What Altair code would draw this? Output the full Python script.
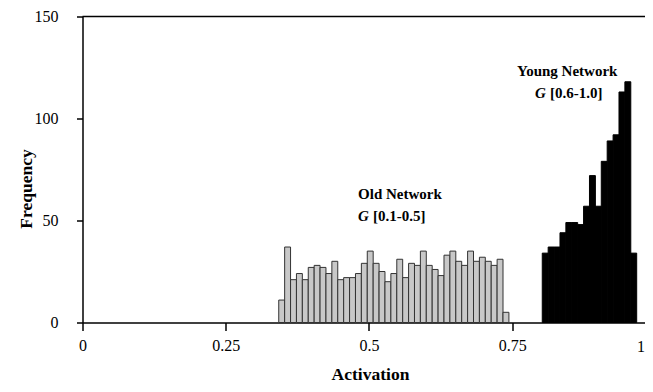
import altair as alt
import pandas as pd

FONT = "Liberation Serif"

# Histogram counts
old_counts = [11, 37, 21, 24, 21, 27, 28, 27, 24, 30, 21, 22, 22,
              24, 29, 35, 29, 25, 20, 24, 31, 22, 29, 28, 35, 28,
              26, 23, 33, 35, 30, 28, 35, 30, 32, 30, 28, 31, 5]
young_counts = [34, 37, 37, 44, 49, 49, 48, 57, 72, 57, 79, 89, 92, 113, 118, 34]

BIN_W = 0.0103
OLD_START = 0.3425
YOUNG_START = 0.8024

x_ticks = [0, 0.25, 0.5, 0.75]
y_ticks = [0, 50, 100, 150]
X_MAX = 0.9817
Y_MAX = 150

ann_titles = ["Old Network", "Young Network"]
ann_title_x = [0.481, 0.7583]
ann_title_y = [63, 123.3]
ann_ranges = ["[0.1-0.5]", "[0.6-1.0]"]
ann_g_x = [0.481, 0.7897]
ann_g_y = [52.2, 112.5]

rows = []
for i, c in enumerate(old_counts):
    s = OLD_START + i * BIN_W
    rows.append({"start": s, "end": s + BIN_W, "count": c, "group": "old"})
for i, c in enumerate(young_counts):
    s = YOUNG_START + i * BIN_W
    rows.append({"start": s, "end": s + BIN_W, "count": c, "group": "young"})
df = pd.DataFrame(rows)

xscale = alt.Scale(domain=[0, X_MAX], nice=False, zero=False)
yscale = alt.Scale(domain=[0, Y_MAX], nice=False)

x_axis = alt.Axis(values=x_ticks, labelExpr="'' + datum.value", title="Activation", grid=False,
                  domainColor="black", domainWidth=1.5, tickColor="black", tickWidth=1.5,
                  tickSize=8, labelFont=FONT, labelFontSize=16, labelColor="black",
                  labelPadding=7, labelFlush=False, labelOverlap=False,
                  titleFont=FONT, titleFontSize=17.5,
                  titleFontWeight="bold", titleColor="black", titleX=287.5, titleY=57,
                  titleBaseline="alphabetic", titleAlign="center")
y_axis = alt.Axis(values=y_ticks, title="Frequency", grid=False,
                  domainColor="black", domainWidth=1.5, tickColor="black", tickWidth=1.5,
                  tickSize=6, labelFont=FONT, labelFontSize=16, labelColor="black",
                  labelPadding=18.5, labelFlush=False, labelOverlap=False,
                  titleFont=FONT, titleFontSize=17.5, titleFontWeight="bold",
                  titleColor="black", titleX=-56, titleY=172, titleAngle=270,
                  titleAlign="center", titleBaseline="middle")


def X(field="start"):
    return alt.X(f"{field}:Q", scale=xscale, axis=x_axis)


def Y(field="count"):
    return alt.Y(f"{field}:Q", scale=yscale, axis=y_axis)


bars = alt.Chart(df).mark_bar(strokeWidth=1).encode(
    x=X(),
    x2="end:Q",
    y=Y(),
    y2=alt.datum(0),
    fill=alt.Fill("group:N", scale=alt.Scale(domain=["old", "young"], range=["#c8c8c8", "#000000"]), legend=None),
    stroke=alt.Stroke("group:N", scale=alt.Scale(domain=["old", "young"], range=["#333333", "#000000"]), legend=None),
)

top_rule = alt.Chart(pd.DataFrame({"count": [Y_MAX]})).mark_rule(color="black", strokeWidth=1.5).encode(
    y=Y()
)

titles_df = pd.DataFrame({"start": ann_title_x, "count": ann_title_y, "t": ann_titles})
g_df = pd.DataFrame({"start": ann_g_x, "count": ann_g_y, "r": ann_ranges})

ann_titles_mark = alt.Chart(titles_df).mark_text(
    font=FONT, fontSize=15, fontWeight="bold", align="left", baseline="middle", color="black"
).encode(x=X(), y=Y(), text="t:N")

g_mark = alt.Chart(g_df).mark_text(
    font=FONT, fontSize=15, fontWeight="bold", fontStyle="italic", align="left", baseline="middle", color="black"
).encode(x=X(), y=Y(), text=alt.value("G"))

range_mark = alt.Chart(g_df).mark_text(
    font=FONT, fontSize=15, fontWeight="bold", align="left", baseline="middle", color="black", dx=15
).encode(x=X(), y=Y(), text="r:N")

one_label = alt.Chart(pd.DataFrame({"start": [X_MAX], "count": [0], "t": ["1"]})).mark_text(
    font=FONT, fontSize=16, align="right", baseline="middle", color="black", dy=24.5
).encode(x=X(), y=Y(), text="t:N")

chart = alt.layer(bars, top_rule, ann_titles_mark, g_mark, range_mark, one_label).properties(
    width=562.5, height=306,
    autosize=alt.AutoSizeParams(type="none"),
    padding={"left": 74.5, "top": 8.5, "right": 0, "bottom": 61.5},
).configure_view(stroke=None)

chart.save("out.html", embed_options={"renderer": "svg", "actions": False})
